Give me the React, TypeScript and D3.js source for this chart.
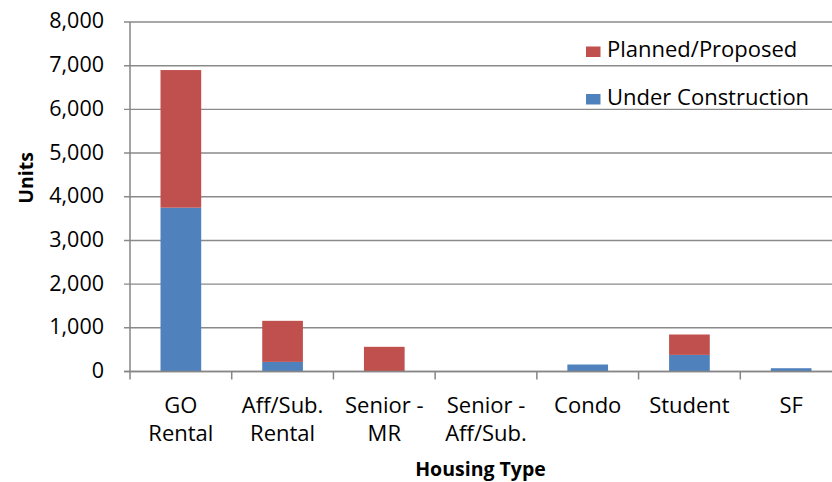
import React, { useEffect, useRef } from 'react';
import * as d3 from 'd3';

const categories = [
  ['GO', 'Rental'],
  ['Aff/Sub.', 'Rental'],
  ['Senior -', 'MR'],
  ['Senior -', 'Aff/Sub.'],
  ['Condo'],
  ['Student'],
  ['SF'],
];
const underConstruction = [3750, 220, 0, 0, 160, 380, 75];
const plannedProposed = [3150, 940, 565, 0, 0, 467, 0];
const yTicks = [0, 1000, 2000, 3000, 4000, 5000, 6000, 7000, 8000];

const seriesNames = ['Under Construction', 'Planned/Proposed'];
const colors = ['#4F81BD', '#C0504D'];

export default function App() {
  const svgRef = useRef<SVGSVGElement>(null);

  useEffect(() => {
    document.body.style.margin = '0';
    const width = 832;
    const height = 482;
    const left = 130;
    const right = 842; // plot area runs past the picture edge, like the original
    const top = 22;
    const bottom = 371.5;
    const font = '"Open Sans", sans-serif';

    const svg = d3.select(svgRef.current);
    svg.selectAll('*').remove();
    svg.attr('width', width).attr('height', height);

    const keys = categories.map((c) => c.join(' '));
    const x = d3.scaleBand<string>().domain(keys).range([left, right]).paddingInner(0.6).paddingOuter(0.3);
    const y = d3.scaleLinear().domain([0, 8000]).range([bottom, top]);

    // gridlines
    svg.append('g')
      .selectAll('line')
      .data(yTicks)
      .enter()
      .append('line')
      .attr('x1', left - 6)
      .attr('x2', right)
      .attr('y1', (d) => y(d))
      .attr('y2', (d) => y(d))
      .attr('stroke', '#8a8a8a')
      .attr('stroke-width', 1.4);

    // y tick labels
    svg.append('g')
      .selectAll('text')
      .data(yTicks)
      .enter()
      .append('text')
      .attr('x', 104)
      .attr('y', (d) => y(d))
      .attr('dy', '0.3em')
      .attr('text-anchor', 'end')
      .style('font-family', font)
      .style('font-size', '21.5px')
      .style('fill', '#000')
      .text((d) => d3.format(',')(d));

    // stacked bars
    const rows = keys.map((k, i) => ({ key: k, uc: underConstruction[i], pp: plannedProposed[i] }));
    const stack = d3.stack<any>().keys(['uc', 'pp'])(rows);
    stack.forEach((layer, si) => {
      svg.append('g')
        .selectAll('rect')
        .data(layer)
        .enter()
        .append('rect')
        .attr('x', (d) => x(d.data.key)!)
        .attr('width', x.bandwidth())
        .attr('y', (d) => y(d[1]))
        .attr('height', (d) => Math.max(0, y(d[0]) - y(d[1])))
        .attr('fill', colors[si]);
    });

    // axes
    svg.append('line')
      .attr('x1', left).attr('x2', left)
      .attr('y1', top).attr('y2', bottom)
      .attr('stroke', '#868686').attr('stroke-width', 1.5);
    svg.append('line')
      .attr('x1', left - 6).attr('x2', right)
      .attr('y1', bottom).attr('y2', bottom)
      .attr('stroke', '#868686').attr('stroke-width', 1.5);

    const step = x.step();
    svg.append('g')
      .selectAll('line')
      .data(d3.range(keys.length + 1))
      .enter()
      .append('line')
      .attr('x1', (i) => left + i * step)
      .attr('x2', (i) => left + i * step)
      .attr('y1', bottom)
      .attr('y2', bottom + 8)
      .attr('stroke', '#868686')
      .attr('stroke-width', 1.5);

    // category labels
    const labels = svg.append('g')
      .selectAll('text')
      .data(categories)
      .enter()
      .append('text')
      .attr('text-anchor', 'middle')
      .style('font-family', font)
      .style('font-size', '22px')
      .style('fill', '#000');
    labels.each(function (lines, i) {
      const cx = x(keys[i])! + x.bandwidth() / 2;
      d3.select(this)
        .selectAll('tspan')
        .data(lines)
        .enter()
        .append('tspan')
        .attr('x', cx)
        .attr('y', (_, j) => 413 + j * 27.5)
        .text((t) => t);
    });

    // axis titles
    svg.append('text')
      .attr('x', (left + 843) / 2 - 6)
      .attr('y', 475.5)
      .attr('text-anchor', 'middle')
      .style('font-family', font)
      .style('font-size', '19.5px')
      .style('font-weight', 'bold')
      .text('Housing Type');

    svg.append('text')
      .attr('transform', 'translate(33, 178) rotate(-90)')
      .attr('text-anchor', 'middle')
      .style('font-family', font)
      .style('font-size', '19.5px')
      .style('font-weight', 'bold')
      .text('Units');

    // legend (Planned/Proposed on top)
    const legendItems = [1, 0];
    const lg = svg.append('g')
      .selectAll('g')
      .data(legendItems)
      .enter()
      .append('g')
      .attr('transform', (_, i) => `translate(586, ${57 + i * 47.5})`);
    lg.append('rect')
      .attr('x', 0)
      .attr('y', -10.5)
      .attr('width', 14.5)
      .attr('height', 10.5)
      .attr('fill', (d) => colors[d]);
    lg.append('text')
      .attr('x', 21)
      .attr('y', 0)
      .style('font-family', font)
      .style('font-size', '22px')
      .style('fill', '#000')
      .text((d) => seriesNames[d]);
  }, []);

  return <svg ref={svgRef}></svg>;
}
